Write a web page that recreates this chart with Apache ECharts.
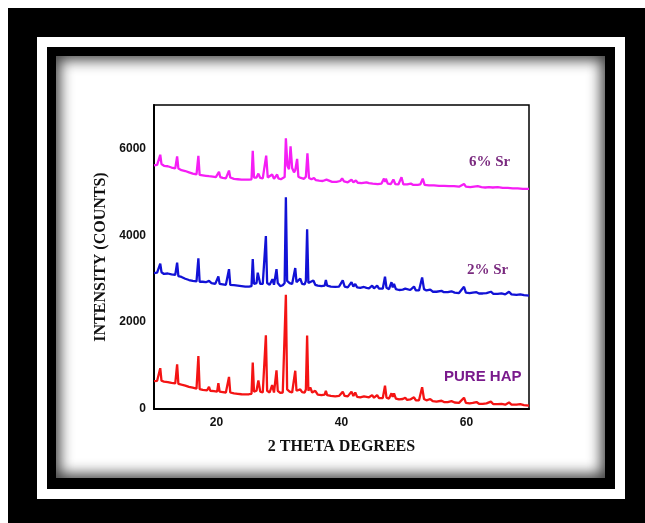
<!DOCTYPE html>
<html>
<head>
<meta charset="utf-8">
<script src="https://cdn.jsdelivr.net/npm/echarts@6/dist/echarts.min.js"></script>
<style>
  html, body { margin: 0; padding: 0; width: 645px; height: 523px; background: #ffffff; overflow: hidden; }
  .blk1 { position: absolute; left: 8px; top: 8px; width: 637px; height: 515px; background: #000; }
  .wht { position: absolute; left: 37px; top: 37px; width: 588px; height: 462px; background: #fff; }
  .blk2 { position: absolute; left: 47px; top: 47px; width: 568px; height: 442px; background: #000; }
  .content { position: absolute; left: 56px; top: 56px; width: 549px; height: 422px; background: #fff;
             box-shadow: inset 0 0 14px 4px rgba(0,0,0,0.75); }
  #chart { position: absolute; left: 0; top: 0; width: 645px; height: 523px; }
</style>
</head>
<body>
<div class="blk1"></div>
<div class="wht"></div>
<div class="blk2"></div>
<div class="content"></div>
<div id="chart"></div>
<script>
// ---- data (2θ in degrees, intensity in counts) ----
const seriesNames = ['PURE HAP', '2% Sr', '6% Sr'];
const xTicks = [20, 40, 60];
const yTicks = [0, 2000, 4000, 6000];

const pureHAP = [
  [10.0,640],[10.5,650],[10.8,660],[11.0,940],[11.2,650],[11.6,630],[12.2,620],[12.8,600],[13.4,590],[13.7,1030],
  [13.9,580],[14.4,560],[15.0,540],[15.6,510],[16.2,490],[16.8,470],[17.1,1220],[17.3,460],[17.8,440],[18.5,430],
  [18.8,510],[19.0,420],[19.6,410],[20.1,400],[20.3,595],[20.5,400],[21.0,390],[21.5,380],[21.8,380],[22.0,740],
  [22.2,380],[22.8,360],[23.4,350],[24.0,340],[24.6,335],[25.2,340],[25.6,350],[25.8,1070],[26.0,400],[26.4,420],
  [26.7,660],[27.0,400],[27.4,380],[27.7,420],[27.9,1695],[28.1,420],[28.5,380],[28.9,550],[29.2,380],[29.4,420],
  [29.6,890],[29.8,420],[30.2,370],[30.6,380],[30.9,420],[31.1,2630],[31.3,450],[31.7,400],[32.1,380],[32.4,420],
  [32.6,880],[32.8,420],[33.1,390],[33.4,450],[33.7,390],[34.1,380],[34.3,450],[34.5,1690],[34.7,420],[35.0,500],
  [35.3,380],[35.8,420],[36.2,330],[36.8,320],[37.3,330],[37.5,420],[37.7,320],[38.3,300],[39.0,290],[39.6,300],
  [39.9,340],[40.2,400],[40.5,300],[41.0,290],[41.3,300],[41.6,400],[41.9,300],[42.2,380],[42.5,280],[43.0,270],
  [43.6,290],[44.0,280],[44.4,270],[44.9,320],[45.2,260],[45.7,320],[46.0,250],[46.6,250],[46.96,535],[47.2,260],
  [47.6,240],[48.0,360],[48.2,280],[48.4,360],[48.7,240],[49.2,220],[49.8,230],[50.2,260],[50.5,210],[51.0,220],
  [51.3,210],[51.6,270],[51.9,200],[52.4,200],[52.9,500],[53.2,230],[53.6,200],[54.2,230],[54.6,180],[55.2,170],
  [56.0,190],[56.4,160],[57.0,160],[57.6,180],[58.1,150],[58.8,140],[59.6,260],[59.9,140],[60.5,130],[61.0,140],
  [61.6,160],[62.0,120],[62.6,120],[63.2,130],[63.9,170],[64.3,110],[65.0,110],[65.6,120],[66.2,100],[66.8,150],
  [67.2,100],[68.0,100],[68.6,110],[69.2,90],[70.0,80]
];

const sr2 = [
  [10.0,3130],[10.5,3140],[10.8,3150],[11.0,3345],[11.2,3150],[11.6,3110],[12.2,3120],[12.8,3100],[13.4,3090],[13.7,3370],
  [13.9,3060],[14.4,3040],[15.0,3000],[15.6,2970],[16.2,2950],[16.8,2940],[17.1,3470],[17.3,2930],[17.8,2930],[18.3,2920],
  [18.8,2950],[19.2,2900],[19.8,2880],[20.3,3050],[20.5,2880],[21.0,2870],[21.5,2860],[21.8,2870],[22.0,3220],[22.2,2860],
  [22.8,2850],[23.4,2840],[24.0,2830],[24.6,2820],[25.2,2820],[25.6,2830],[25.8,3450],[26.0,2880],[26.4,2900],[26.6,3140],
  [27.0,2880],[27.4,2880],[27.7,2900],[27.9,3980],[28.1,2900],[28.5,2860],[28.95,2990],[29.2,2860],[29.4,2900],[29.6,3220],
  [29.8,2900],[30.2,2830],[30.6,2850],[30.9,2900],[31.1,4875],[31.3,2950],[31.7,2900],[32.1,2880],[32.4,2920],[32.6,3245],
  [32.8,2920],[33.1,2900],[33.4,3000],[33.7,2880],[34.1,2870],[34.3,2950],[34.5,4140],[34.7,2900],[35.0,2900],[35.5,2960],
  [35.8,2860],[36.2,2840],[36.8,2830],[37.3,2840],[37.5,2970],[37.7,2840],[38.3,2820],[39.0,2810],[39.6,2820],[40.2,2960],
  [40.5,2820],[41.0,2800],[41.3,2810],[41.6,2920],[41.9,2820],[42.2,2880],[42.5,2800],[43.0,2790],[43.6,2810],[44.0,2790],
  [44.4,2780],[44.9,2840],[45.2,2780],[45.7,2840],[46.0,2770],[46.6,2770],[46.96,3045],[47.2,2790],[47.6,2760],[48.0,2920],
  [48.2,2800],[48.4,2880],[48.7,2760],[49.2,2740],[49.8,2750],[50.2,2770],[50.5,2730],[51.0,2740],[51.3,2730],[51.6,2820],
  [51.9,2730],[52.4,2730],[52.9,3030],[53.2,2760],[53.6,2730],[54.2,2750],[54.6,2700],[55.2,2700],[56.0,2720],[56.4,2690],
  [57.0,2690],[57.6,2710],[58.1,2680],[58.8,2670],[59.6,2815],[59.9,2680],[60.5,2670],[61.0,2680],[61.6,2690],[62.0,2660],
  [62.6,2660],[63.2,2670],[63.9,2700],[64.3,2650],[65.0,2650],[65.6,2660],[66.2,2640],[66.8,2700],[67.2,2640],[68.0,2630],
  [68.6,2640],[69.2,2620],[70.0,2610]
];

const sr6 = [
  [10.0,5610],[10.5,5620],[10.8,5640],[11.0,5855],[11.2,5640],[11.6,5600],[12.2,5590],[12.8,5560],[13.4,5540],[13.7,5815],
  [13.9,5540],[14.4,5500],[15.0,5480],[15.6,5450],[16.2,5420],[16.8,5400],[17.1,5830],[17.3,5390],[17.8,5380],[18.3,5370],
  [18.8,5360],[19.4,5350],[19.9,5340],[20.4,5460],[20.6,5340],[21.0,5320],[21.5,5310],[21.8,5330],[22.0,5490],[22.2,5330],
  [22.8,5300],[23.4,5290],[24.0,5280],[24.6,5280],[25.2,5280],[25.6,5290],[25.8,5945],[26.0,5330],[26.4,5330],[26.7,5420],
  [27.0,5320],[27.4,5310],[27.7,5330],[27.95,5835],[28.2,5330],[28.5,5310],[28.9,5400],[29.2,5300],[29.5,5320],[29.7,5400],
  [29.9,5310],[30.3,5290],[30.6,5310],[30.9,5340],[31.1,6235],[31.35,5600],[31.6,5520],[31.85,6050],[32.1,5550],[32.4,5450],
  [32.6,5500],[32.9,5760],[33.1,5350],[33.5,5320],[34.0,5300],[34.3,5350],[34.55,5890],[34.8,5320],[35.2,5290],[35.6,5320],
  [35.9,5270],[36.4,5260],[37.0,5250],[37.6,5280],[37.9,5240],[38.5,5230],[39.2,5230],[39.8,5250],[40.1,5310],[40.4,5240],
  [41.0,5220],[41.3,5230],[41.6,5280],[41.9,5220],[42.3,5260],[42.6,5210],[43.2,5200],[44.0,5220],[44.4,5200],[45.0,5190],
  [45.3,5200],[45.8,5180],[46.4,5190],[46.8,5305],[47.0,5230],[47.1,5305],[47.4,5190],[47.9,5180],[48.3,5285],[48.6,5180],
  [49.1,5170],[49.6,5335],[49.9,5170],[50.5,5170],[51.1,5190],[51.5,5160],[52.2,5160],[52.6,5170],[53.0,5305],[53.3,5160],
  [54.0,5150],[54.8,5150],[55.6,5140],[56.4,5140],[57.2,5130],[58.0,5130],[58.8,5120],[59.6,5180],[59.9,5120],[60.6,5110],
  [61.2,5120],[61.8,5130],[62.4,5110],[63.0,5100],[63.6,5110],[64.2,5100],[65.0,5110],[65.8,5090],[66.6,5090],[67.4,5080],
  [68.2,5080],[69.0,5070],[70.0,5070]
];

const chart = echarts.init(document.getElementById('chart'), null, { renderer: 'canvas' });
const tickFont = { fontFamily: 'Liberation Sans, Arial, sans-serif', fontWeight: 'bold', fontSize: 12, color: '#111' };
const titleFont = { fontFamily: 'Liberation Serif, Times New Roman, serif', fontWeight: 'bold', fontSize: 16, color: '#111' };

chart.setOption({
  backgroundColor: 'transparent',
  animation: false,
  grid: { left: 154, right: 116, top: 105, bottom: 114, show: true, borderColor: '#000', borderWidth: 1.5, backgroundColor: 'transparent' },
  xAxis: {
    type: 'value', min: 10, max: 70, interval: 10,
    name: '2 THETA DEGREES', nameLocation: 'middle', nameGap: 30, nameTextStyle: titleFont,
    axisLine: { show: true, lineStyle: { color: '#000', width: 2 } },
    axisTick: { show: false }, splitLine: { show: false },
    axisLabel: Object.assign({ margin: 8, formatter: v => xTicks.includes(v) ? String(v) : '' }, tickFont)
  },
  yAxis: {
    type: 'value', min: 0, max: 7000, interval: 1000,
    name: 'INTENSITY (COUNTS)', nameLocation: 'middle', nameGap: 45, nameRotate: 90, nameTextStyle: titleFont,
    axisLine: { show: true, lineStyle: { color: '#000', width: 2 } },
    axisTick: { show: false }, splitLine: { show: false },
    axisLabel: Object.assign({ margin: 8, formatter: v => yTicks.includes(v) ? String(v) : '' }, tickFont)
  },
  series: [
    { name: seriesNames[0], type: 'line', data: pureHAP, showSymbol: false, lineStyle: { color: '#f41414', width: 2.3 }, z: 3 },
    { name: seriesNames[1], type: 'line', data: sr2, showSymbol: false, lineStyle: { color: '#1212d6', width: 2.3 }, z: 3 },
    { name: seriesNames[2], type: 'line', data: sr6, showSymbol: false, lineStyle: { color: '#f51ef5', width: 2.3 }, z: 3 }
  ],
  graphic: [
    { type: 'text', left: 469, top: 155, style: { text: seriesNames[2], fill: '#7a2a7f', font: 'bold 15px "Liberation Serif", serif' } },
    { type: 'text', left: 467, top: 263, style: { text: seriesNames[1], fill: '#7a2a7f', font: 'bold 15px "Liberation Serif", serif' } },
    { type: 'text', left: 444, top: 369, style: { text: seriesNames[0], fill: '#7a1a8c', font: 'bold 15px "Liberation Sans", sans-serif' } }
  ]
});
</script>
</body>
</html>
